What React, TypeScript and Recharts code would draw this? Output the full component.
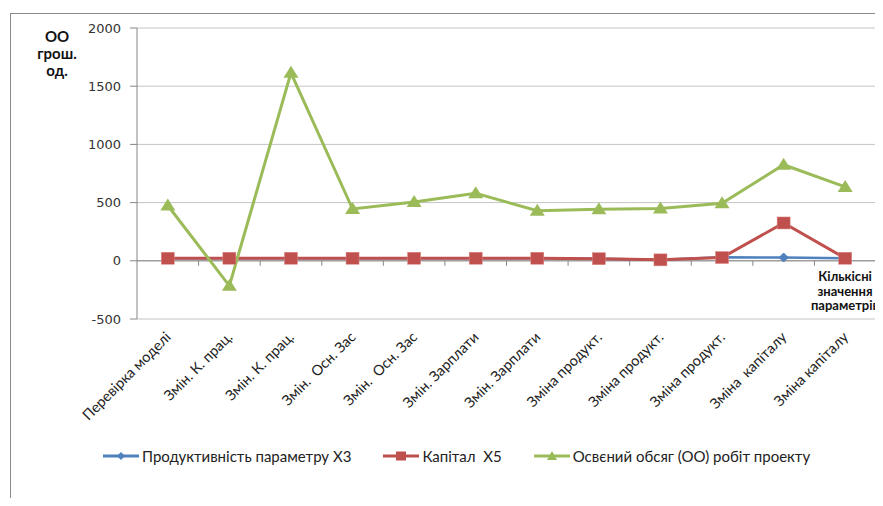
import React from "react";
import { LineChart, Line, XAxis, YAxis, CartesianGrid, ReferenceLine } from "recharts";

const categories = [
  "Перевірка моделі",
  "Змін. К. прац.",
  "Змін. К. прац.",
  "Змін.  Осн. Зас",
  "Змін.  Осн. Зас",
  "Змін. Зарплати",
  "Змін. Зарплати",
  "Зміна продукт.",
  "Зміна продукт.",
  "Зміна продукт.",
  "Зміна  капіталу",
  "Зміна капіталу",
];
const productivityX3 = [22, 22, 22, 22, 22, 22, 22, 18, 8, 30, 28, 22];
const capitalX5 = [22, 22, 22, 22, 22, 22, 22, 18, 8, 28, 325, 22];
const earnedValue = [475, -215, 1615, 445, 505, 580, 430, 442, 450, 495, 825, 635];
const yTicks = [-500, 0, 500, 1000, 1500, 2000];
const seriesNames = ["Продуктивність параметру Х3", "Капітал  Х5", "Освєний обсяг (ОО) робіт проекту"];
const yTitle = ["ОО", "грош.", "од."];
const xTitle = ["Кількісні", "значення", "параметрів"];

const data = categories.map((name, i) => ({
  name,
  p: productivityX3[i],
  k: capitalX5[i],
  o: earnedValue[i],
}));

const W = 883;
const H = 506;
const M = { top: 28, right: 7, bottom: 87, left: 0 };
const Y_W = 137;
const X_H = 100;
const PLOT_LEFT = M.left + Y_W;
const PLOT_RIGHT = W - M.right;
const PLOT_TOP = M.top;
const PLOT_BOTTOM = H - M.bottom - X_H;
const Y_MIN = yTicks[0];
const Y_MAX = yTicks[yTicks.length - 1];
const ZERO_Y = PLOT_TOP + ((PLOT_BOTTOM - PLOT_TOP) * (Y_MAX - 0)) / (Y_MAX - Y_MIN);
const BAND = (PLOT_RIGHT - PLOT_LEFT) / categories.length;

const BLUE = "#4F81BD";
const RED = "#C0504D";
const GREEN = "#9BBB59";
const FONT = "Lato, 'Open Sans', sans-serif";

const XTick = (props: any) => {
  const { x, y, payload } = props;
  return (
    <g>
      <line x1={x + BAND / 2} x2={x + BAND / 2} y1={ZERO_Y} y2={ZERO_Y + 5} stroke="#868686" strokeWidth={1} />
      <text
        transform={`translate(${x + 4},${y + 19}) rotate(-45)`}
        textAnchor="end"
        fontFamily={FONT}
        fontSize={14.5}
        fill="#222"
        style={{ whiteSpace: "pre" }}
      >
        {payload.value}
      </text>
    </g>
  );
};

const Diamond = (props: any) => {
  const { cx, cy, index } = props;
  if (cx == null || cy == null) return <g key={`d${index}`} />;
  const r = 4.5;
  return <path key={`d${index}`} d={`M${cx},${cy - r}L${cx + r},${cy}L${cx},${cy + r}L${cx - r},${cy}Z`} fill={BLUE} stroke={BLUE} />;
};
const Square = (props: any) => {
  const { cx, cy, index } = props;
  if (cx == null || cy == null) return <g key={`s${index}`} />;
  return <rect key={`s${index}`} x={cx - 6.5} y={cy - 6} width={13} height={12} fill={RED} stroke="#d88" strokeWidth={0.5} />;
};
const Triangle = (props: any) => {
  const { cx, cy, index } = props;
  if (cx == null || cy == null) return <g key={`t${index}`} />;
  return <path key={`t${index}`} d={`M${cx},${cy - 7}L${cx + 7.5},${cy + 5}L${cx - 7.5},${cy + 5}Z`} fill={GREEN} />;
};

const legendIcons = [
  (
    <svg width={36} height={12} key="i0">
      <line x1={0} x2={36} y1={6} y2={6} stroke={BLUE} strokeWidth={3} />
      <path d="M18,2L22,6L18,10L14,6Z" fill={BLUE} />
    </svg>
  ),
  (
    <svg width={36} height={12} key="i1">
      <line x1={0} x2={36} y1={6} y2={6} stroke={RED} strokeWidth={3} />
      <rect x={13} y={1.5} width={10} height={9} fill={RED} />
    </svg>
  ),
  (
    <svg width={36} height={12} key="i2">
      <line x1={0} x2={36} y1={6} y2={6} stroke={GREEN} strokeWidth={3} />
      <path d="M18,1L23,10L13,10Z" fill={GREEN} />
    </svg>
  ),
];

export default function App() {
  return (
    <div style={{ position: "relative", width: W, height: H, margin: -8, overflow: "hidden", background: "#fff" }}>
      <div
        style={{
          position: "absolute",
          left: 10,
          top: 13,
          width: W + 20,
          height: H + 20,
          borderLeft: "1.5px solid #8a8a8a",
          borderTop: "1.5px solid #8a8a8a",
        }}
      />
      <div style={{ position: "absolute", left: 0, top: 0 }}>
        <LineChart width={W} height={H} data={data} margin={M}>
          <CartesianGrid vertical={false} stroke="#c4c4c4" strokeWidth={1} />
          <XAxis
            dataKey="name"
            padding={{ left: BAND / 2, right: BAND / 2 }}
            interval={0}
            axisLine={false}
            tickLine={false}
            tickSize={0}
            tickMargin={0}
            height={X_H}
            tick={<XTick />}
          />
          <YAxis
            width={Y_W}
            domain={[Y_MIN, Y_MAX]}
            ticks={yTicks}
            interval={0}
            tickSize={7}
            tickMargin={9}
            axisLine={{ stroke: "#868686" }}
            tickLine={{ stroke: "#868686" }}
            tick={{ fontFamily: "'DejaVu Sans', sans-serif", fontSize: 13, fill: "#333" }}
          />
          <ReferenceLine y={0} stroke="#868686" strokeWidth={1} />
          <Line dataKey="p" name={seriesNames[0]} stroke={BLUE} strokeWidth={2.5} dot={<Diamond />} isAnimationActive={false} />
          <Line dataKey="k" name={seriesNames[1]} stroke={RED} strokeWidth={3} dot={<Square />} isAnimationActive={false} />
          <Line dataKey="o" name={seriesNames[2]} stroke={GREEN} strokeWidth={3} dot={<Triangle />} isAnimationActive={false} />
          {yTitle.map((t, i) => (
            <text key={`yt${i}`} x={57} y={42 + i * 17} textAnchor="middle" fontFamily={FONT} fontWeight="bold" fontSize={15} fill="#111">
              {t}
            </text>
          ))}
          {xTitle.map((t, i) => (
            <text key={`xt${i}`} x={845} y={281 + i * 14.5} textAnchor="middle" fontFamily={FONT} fontWeight="bold" fontSize={13} fill="#111">
              {t}
            </text>
          ))}
        </LineChart>
      </div>
      <div
        style={{
          position: "absolute",
          left: 103,
          top: 447,
          display: "flex",
          alignItems: "center",
          gap: 32,
          fontFamily: FONT,
          fontSize: 15,
          color: "#222",
          whiteSpace: "pre",
        }}
      >
        {seriesNames.map((n, i) => (
          <div key={n} style={{ display: "flex", alignItems: "center", gap: 3 }}>
            {legendIcons[i]}
            <span>{n}</span>
          </div>
        ))}
      </div>
    </div>
  );
}
